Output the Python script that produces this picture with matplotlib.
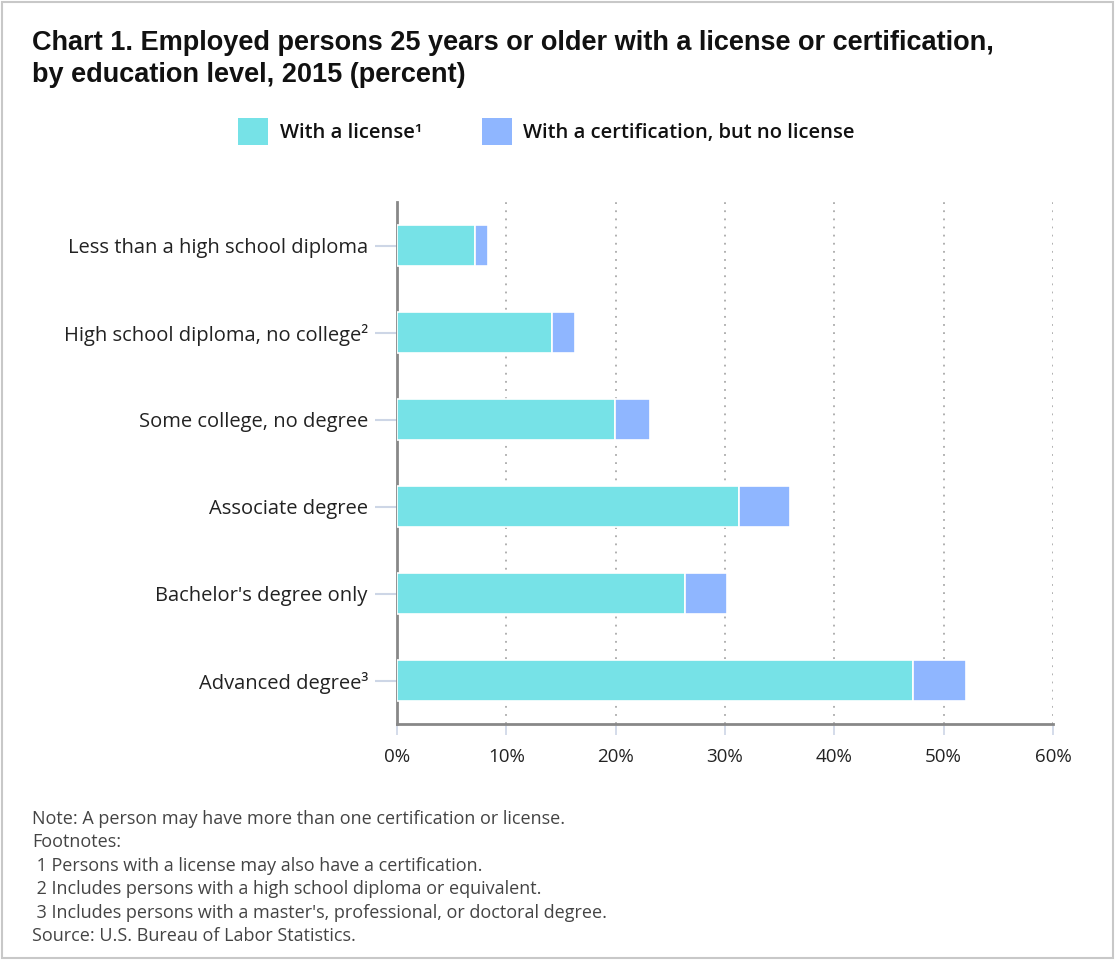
import numpy as np
import matplotlib
matplotlib.use("Agg")
import matplotlib.pyplot as plt
from matplotlib.patches import Rectangle

# Data (percent)
categories = ["Less than a high school diploma", "High school diploma, no college\u00b2",
              "Some college, no degree", "Associate degree",
              "Bachelor's degree only", "Advanced degree\u00b3"]
with_license = [7.1, 14.2, 19.9, 31.3, 26.3, 47.2]
cert_only = [1.2, 2.1, 3.2, 4.6, 3.9, 4.8]
x_ticks = [0, 10, 20, 30, 40, 50, 60]

c_lic = "#76e2e7"
c_cert = "#8fb6ff"
plt.rcParams['font.family'] = ['Open Sans', 'DejaVu Sans']

fig = plt.figure(figsize=(11.15, 9.6), dpi=100)
ax = fig.add_axes([397/1115, 1 - 724/960, (1053-397)/1115, 522/960])

y = np.arange(len(categories))
ax.barh(y, with_license, height=0.47, color=c_lic, edgecolor="white", linewidth=1.2, zorder=3)
ax.barh(y, cert_only, left=with_license, height=0.47, color=c_cert, edgecolor="white", linewidth=1.2, zorder=3)

ax.set_ylim(len(categories) - 0.5, -0.5)
ax.set_xlim(0, 60)
ax.set_yticks(y)
ax.set_yticklabels(categories, fontsize=14.5, color="#222222")
ax.set_xticks(x_ticks)
ax.set_xticklabels([f"{t}%" for t in x_ticks], fontsize=13.5, color="#222222")
ax.tick_params(axis="y", length=16, width=1.5, color="#cdd6e6", pad=5)
ax.tick_params(axis="x", length=8, width=1.2, color="#cdd6e6", pad=9)

# dotted vertical gridlines
ax.xaxis.grid(True, linestyle=(0, (1, 3.5)), color="#aaaaaa", linewidth=1.3, zorder=0)
for s in ["top", "right"]:
    ax.spines[s].set_visible(False)
ax.spines["left"].set_color("#888888")
ax.spines["left"].set_linewidth(2)
ax.spines["bottom"].set_color("#888888")
ax.spines["bottom"].set_linewidth(2)

# Title
fig.text(32/1115, 1 - 43/960, "Chart 1. Employed persons 25 years or older with a license or certification,",
         fontsize=19.5, fontweight="bold", family="Liberation Sans", va="center", ha="left", color="#111111")
fig.text(32/1115, 1 - 75/960, "by education level, 2015 (percent)",
         fontsize=19.5, fontweight="bold", family="Liberation Sans", va="center", ha="left", color="#111111")

# Legend
fig.patches.append(Rectangle((238/1115, 1 - 145/960), 30/1115, 27/960, transform=fig.transFigure,
                             facecolor=c_lic, edgecolor="none"))
fig.text(280/1115, 1 - 133/960, "With a license\u00b9", fontsize=14.5, fontweight="semibold",
         va="center", ha="left", color="#111111")
fig.patches.append(Rectangle((482/1115, 1 - 145/960), 30/1115, 27/960, transform=fig.transFigure,
                             facecolor=c_cert, edgecolor="none"))
fig.text(523/1115, 1 - 133/960, "With a certification, but no license", fontsize=14.5, fontweight="semibold",
         va="center", ha="left", color="#111111")

# Notes
notes = ["Note: A person may have more than one certification or license.",
         "Footnotes:",
         " 1 Persons with a license may also have a certification.",
         " 2 Includes persons with a high school diploma or equivalent.",
         " 3 Includes persons with a master's, professional, or doctoral degree.",
         "Source: U.S. Bureau of Labor Statistics."]
for i, line in enumerate(notes):
    fig.text(32/1115, 1 - (819 + i*23.4)/960, line, fontsize=13, color="#444444",
             va="center", ha="left")

# Outer frame
fig.patches.append(Rectangle((2/1115, 2/960), 1111/1115, 956/960, transform=fig.transFigure,
                             facecolor="none", edgecolor="#c8c8c8", linewidth=1.5))

fig.savefig("out.png", dpi=100)
